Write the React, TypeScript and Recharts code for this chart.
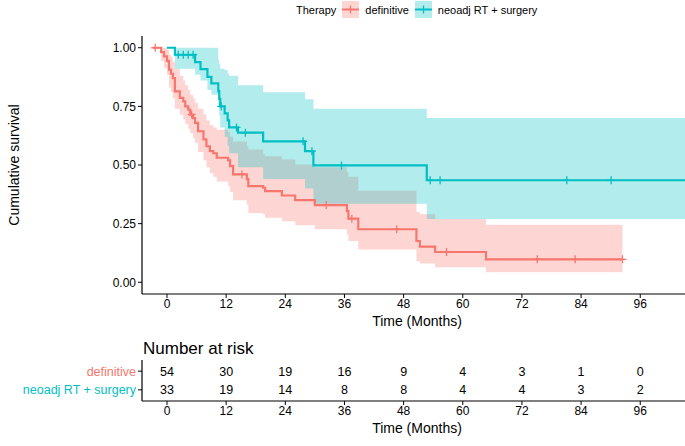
import { ComposedChart, Line, Area, Scatter, XAxis, YAxis } from 'recharts';

const RED = '#F8766D';
const TEAL = '#00BFC4';
const FONT = '"Liberation Sans", Arial, Helvetica, sans-serif';

// Time axis (months)
const X_MIN = -5.07;
const X_MAX = 106.5;
const timeTicks = [0, 12, 24, 36, 48, 60, 72, 84, 96];
const survTicks = [0, 0.25, 0.5, 0.75, 1];

const groups = ['definitive', 'neoadj RT + surgery'];

// definitive - KM steps
const redTimes = [-2.8, -1.2, -0.6, 0, 0.4, 0.8, 1.2, 1.6, 2.6, 3.3, 3.7, 4.3, 4.7, 5.3, 5.7, 6.3, 7.4, 8.0, 8.7, 9.4, 10.1, 12.4, 12.8, 13.4, 16.2, 16.5, 19.5, 19.9, 23.3, 26, 30, 36.5, 36.8, 38.8, 50.6, 51.3, 54.4, 64.7, 92.4];
const redSurv = [1, 0.981, 0.963, 0.944, 0.907, 0.889, 0.87, 0.814, 0.786, 0.771, 0.75, 0.736, 0.715, 0.7, 0.68, 0.644, 0.609, 0.58, 0.559, 0.55, 0.531, 0.52, 0.495, 0.46, 0.44, 0.41, 0.403, 0.389, 0.37, 0.35, 0.329, 0.303, 0.271, 0.226, 0.176, 0.152, 0.129, 0.098, 0.098];
const redLower = [1, 0.945, 0.915, 0.885, 0.83, 0.81, 0.785, 0.74, 0.715, 0.695, 0.675, 0.655, 0.635, 0.615, 0.595, 0.555, 0.52, 0.49, 0.465, 0.45, 0.43, 0.41, 0.385, 0.35, 0.33, 0.295, 0.29, 0.275, 0.26, 0.243, 0.226, 0.204, 0.176, 0.14, 0.09, 0.08, 0.064, 0.043, 0.043];
const redUpper = [1, 1, 1, 0.99, 0.97, 0.96, 0.94, 0.91, 0.88, 0.86, 0.84, 0.82, 0.8, 0.785, 0.765, 0.74, 0.715, 0.69, 0.67, 0.66, 0.65, 0.64, 0.62, 0.6, 0.58, 0.566, 0.545, 0.537, 0.523, 0.502, 0.49, 0.47, 0.45, 0.39, 0.3, 0.29, 0.27, 0.245, 0.245];
const redCensorTimes = [-2.4, 5.0, 15.2, 32.3, 37.5, 46.6, 56.7, 75.1, 82.8, 92.4];
const redCensorSurv = [1, 0.715, 0.46, 0.329, 0.271, 0.226, 0.129, 0.098, 0.098, 0.098];

// neoadj RT + surgery
const tealTimes = [0, 1.6, 5.7, 6.8, 8.2, 9.0, 10.4, 10.6, 10.8, 11.7, 12.3, 12.6, 14.4, 19.5, 28.0, 29.7, 52.7, 106.5];
const tealSurv = [1, 0.97, 0.939, 0.909, 0.876, 0.848, 0.815, 0.782, 0.75, 0.72, 0.69, 0.66, 0.638, 0.601, 0.559, 0.498, 0.435, 0.435];
const tealLower = [1, 0.91, 0.885, 0.86, 0.82, 0.8, 0.75, 0.71, 0.66, 0.62, 0.58, 0.55, 0.49, 0.44, 0.4, 0.335, 0.27, 0.27];
const tealUpper = [1, 1, 1, 1, 1, 1, 0.95, 0.93, 0.91, 0.905, 0.89, 0.88, 0.84, 0.81, 0.78, 0.74, 0.7, 0.7];
const tealCensorTimes = [2.3, 3.3, 4.3, 5.3, 11.0, 14.1, 15.9, 27.6, 29.4, 35.4, 53.4, 55.4, 81.1, 90.1];
const tealCensorSurv = [0.97, 0.97, 0.97, 0.97, 0.75, 0.66, 0.638, 0.601, 0.559, 0.498, 0.435, 0.435, 0.435, 0.435];

// Number at risk
const riskTimes = [0, 12, 24, 36, 48, 60, 72, 84, 96];
const riskDefinitive = [54, 30, 19, 16, 9, 4, 3, 1, 0];
const riskNeoadj = [33, 19, 14, 8, 8, 4, 4, 3, 2];

const steps = (t: number[], s: number[], lo: number[], hi: number[]) =>
  t.map((v, i) => ({ t: v, s: s[i], lo: lo[i], hi: hi[i] }));
const points = (t: number[], s: number[]) => t.map((v, i) => ({ t: v, s: s[i] }));

const redData = steps(redTimes, redSurv, redLower, redUpper);
const tealData = steps(tealTimes, tealSurv, tealLower, tealUpper);
const redCensor = points(redCensorTimes, redCensorSurv);
const tealCensor = points(tealCensorTimes, tealCensorSurv);
const riskRows = [
  ...riskTimes.map((t, i) => ({ t, row: 2, n: riskDefinitive[i] })),
  ...riskTimes.map((t, i) => ({ t, row: 1, n: riskNeoadj[i] })),
];

const plus = (color: string) => (props: any) => {
  const { cx, cy } = props;
  if (cx == null || cy == null) return <g />;
  return (
    <path
      d={`M${cx - 4},${cy}H${cx + 4}M${cx},${cy - 4}V${cy + 4}`}
      stroke={color}
      strokeWidth={1.3}
      fill="none"
    />
  );
};

const riskText = (props: any) => {
  const { cx, cy, payload } = props;
  return (
    <text x={cx} y={cy} dy="0.35em" textAnchor="middle" fontSize={12.5} fontFamily={FONT} fill="#000">
      {payload.n}
    </text>
  );
};

const RiskTick = (props: any) => {
  const { x, y, payload } = props;
  const isDef = payload.value === 2;
  return (
    <text x={x} y={y} dy="0.35em" textAnchor="end" fontSize={12.5} fontFamily={FONT} fill={isDef ? RED : TEAL}>
      {isDef ? groups[0] : groups[1]}
    </text>
  );
};

const LegendKey = ({ color }: { color: string }) => (
  <svg width={17} height={17} style={{ display: 'block' }}>
    <rect x={0} y={0} width={17} height={17} fill={color} fillOpacity={0.3} />
    <line x1={0} y1={8.5} x2={17} y2={8.5} stroke={color} strokeWidth={2} />
    <line x1={8.5} y1={4.5} x2={8.5} y2={12.5} stroke={color} strokeWidth={1.3} />
  </svg>
);

const tickStyle = { fill: '#000', fontSize: 12, fontFamily: FONT };
const axisLine = { stroke: '#000', strokeWidth: 1.2 };

export default function App() {
  return (
    <div style={{ position: 'absolute', left: 0, top: 0, width: 685, height: 446, overflow: 'hidden', background: '#fff', fontFamily: FONT }}>
      {/* legend */}
      <div style={{ position: 'absolute', top: 1, left: 296, display: 'flex', alignItems: 'center', fontSize: 11, color: '#000' }}>
        <span style={{ marginRight: 6 }}>Therapy</span>
        <LegendKey color={RED} />
        <span style={{ margin: '0 6px 0 6px' }}>{groups[0]}</span>
        <LegendKey color={TEAL} />
        <span style={{ marginLeft: 6 }}>{groups[1]}</span>
      </div>

      <div style={{ position: 'absolute', left: 14, top: 165, transform: 'translate(-50%, -50%) rotate(-90deg)', whiteSpace: 'nowrap', fontSize: 14, color: '#000' }}>
        Cumulative survival
      </div>

      <div style={{ position: 'absolute', left: 0, top: 0 }}>
        <ComposedChart width={700} height={334} margin={{ top: 36, right: 8, bottom: 0, left: 0 }}>
          <XAxis
            type="number"
            dataKey="t"
            domain={[X_MIN, X_MAX]}
            allowDataOverflow
            ticks={timeTicks}
            interval={0}
            height={40}
            tick={tickStyle}
            tickSize={4}
            tickMargin={1}
            axisLine={axisLine}
            tickLine={{ stroke: '#000' }}
          />
          <YAxis
            type="number"
            domain={[-0.05, 1.05]}
            allowDataOverflow
            ticks={survTicks}
            interval={0}
            width={142}
            tickFormatter={(v: number) => v.toFixed(2)}
            tick={tickStyle}
            tickSize={4}
            tickMargin={2}
            axisLine={axisLine}
            tickLine={{ stroke: '#000' }}
          />
          <Area data={redData} type="stepAfter" dataKey={(d: any) => [d.lo, d.hi]} fill={RED} fillOpacity={0.3} stroke="none" isAnimationActive={false} />
          <Area data={tealData} type="stepAfter" dataKey={(d: any) => [d.lo, d.hi]} fill={TEAL} fillOpacity={0.3} stroke="none" isAnimationActive={false} />
          <Line data={redData} type="stepAfter" dataKey="s" stroke={RED} strokeWidth={2.2} dot={false} isAnimationActive={false} />
          <Line data={tealData} type="stepAfter" dataKey="s" stroke={TEAL} strokeWidth={2.2} dot={false} isAnimationActive={false} />
          <Scatter data={redCensor} dataKey="s" shape={plus(RED)} isAnimationActive={false} />
          <Scatter data={tealCensor} dataKey="s" shape={plus(TEAL)} isAnimationActive={false} />
        </ComposedChart>
      </div>

      <div style={{ position: 'absolute', left: 417, top: 321, transform: 'translate(-50%, -50%)', fontSize: 14, whiteSpace: 'nowrap' }}>
        Time (Months)
      </div>

      <div style={{ position: 'absolute', left: 143, top: 349, transform: 'translateY(-50%)', fontSize: 17, whiteSpace: 'nowrap' }}>
        Number at risk
      </div>

      <div style={{ position: 'absolute', left: 0, top: 338 }}>
        <ComposedChart width={700} height={108} margin={{ top: 22, right: 8, bottom: 0, left: 0 }}>
          <XAxis
            type="number"
            dataKey="t"
            domain={[X_MIN, X_MAX]}
            allowDataOverflow
            ticks={riskTimes}
            interval={0}
            height={45}
            tick={tickStyle}
            tickSize={4}
            tickMargin={1}
            axisLine={axisLine}
            tickLine={{ stroke: '#000' }}
          />
          <YAxis
            type="number"
            domain={[0.4, 2.6]}
            allowDataOverflow
            ticks={[1, 2]}
            interval={0}
            width={142}
            tick={<RiskTick />}
            tickSize={4}
            tickMargin={2}
            axisLine={axisLine}
            tickLine={{ stroke: '#000' }}
          />
          <Scatter data={riskRows} dataKey="row" shape={riskText} isAnimationActive={false} />
        </ComposedChart>
      </div>

      <div style={{ position: 'absolute', left: 417, top: 428, transform: 'translate(-50%, -50%)', fontSize: 14, whiteSpace: 'nowrap' }}>
        Time (Months)
      </div>
    </div>
  );
}
